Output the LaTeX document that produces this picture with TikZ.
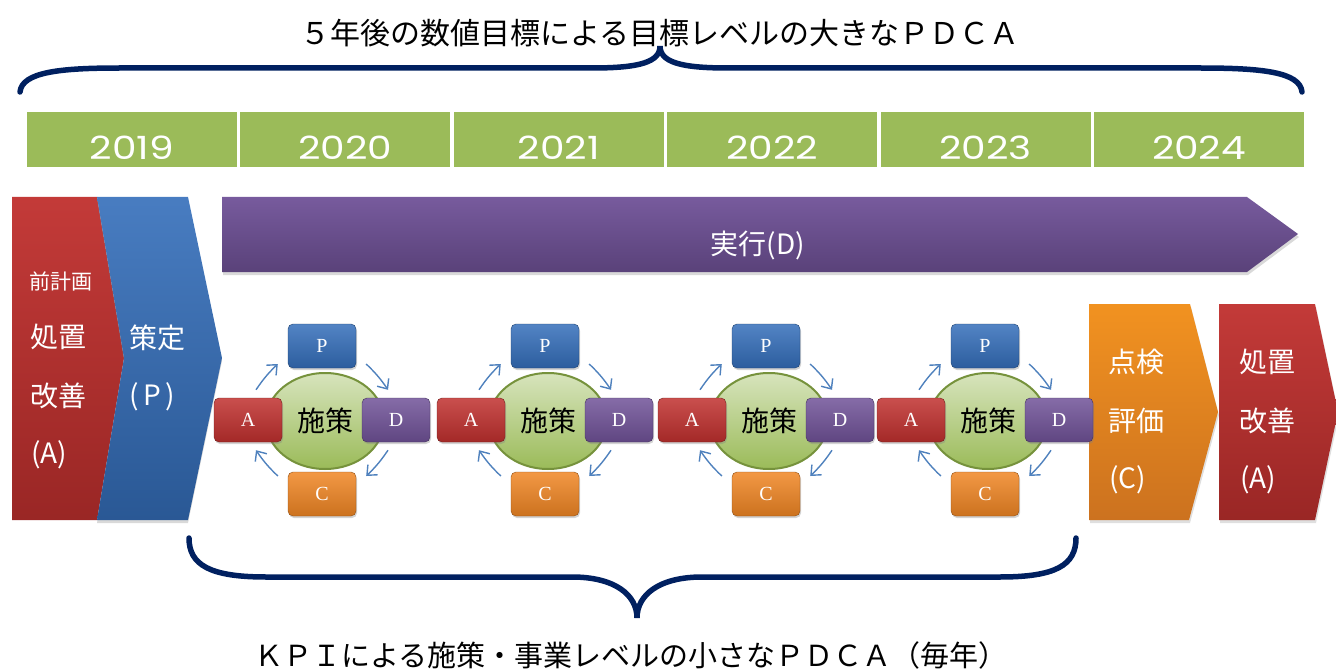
\documentclass[tikz,border=0pt]{standalone}
\usepackage{fontspec}
\setmainfont{Noto Sans CJK JP}
\newfontfamily\yearfont[FakeStretch=1.22]{Poppins}
\newfontfamily\letterfont{Liberation Serif}
\usepackage{tikz}
\usetikzlibrary{shapes.geometric, arrows.meta, positioning, shadows}
\definecolor{yeargreen}{RGB}{155,187,89}
\definecolor{bracenavy}{RGB}{0,32,96}
\definecolor{phasered}{RGB}{192,48,46}
\definecolor{phaseblue}{RGB}{52,110,186}
\definecolor{phasepurple}{RGB}{112,82,152}
\definecolor{phaseorange}{RGB}{240,134,36}
\definecolor{cyclearrow}{RGB}{79,129,189}
\definecolor{ovalgreen}{RGB}{118,146,60}

\begin{document}
\begin{tikzpicture}[
    x=1pt, y=-1pt,
    yearcell/.style={fill=yeargreen, minimum width=210pt, minimum height=55pt, inner sep=0pt},
    yeartext/.style={text=white, inner sep=0pt, font=\yearfont\fontsize{32}{34}\selectfont},
    phasetext/.style={text=white, anchor=west, inner sep=0pt, font=\fontsize{28}{30}\selectfont},
    brace/.style={draw=bracenavy, line width=5.5pt, line cap=round},
    pdca/.style={draw=#1!60!black, thin, rounded corners=5pt, top color=#1!85!white, bottom color=#1!85!black,
        minimum width=68pt, minimum height=44pt, inner sep=0pt, text=white,
        font=\letterfont\fontsize{20}{22}\selectfont,
        drop shadow={opacity=0.35, shadow xshift=1pt, shadow yshift=-2pt}},
    seisaku/.style={ellipse, draw=ovalgreen, line width=2pt, top color=yeargreen!40!white, bottom color=yeargreen,
        minimum width=118pt, minimum height=96pt, inner sep=0pt, font=\fontsize{28}{30}\selectfont},
    cyc/.style={draw=cyclearrow, line width=1.4pt, -{Straight Barb[length=8pt, width=14pt]}}
]
    \useasboundingbox (0,0) rectangle (1336,671);

    % big PDCA over five years
    \node[font=\fontsize{30}{32}\selectfont] (toptitle) at (660,33) {５年後の数値目標による目標レベルの大きなＰＤＣＡ};
    \path[brace] (20,92) .. controls (22,72) and (60,68) .. (120,68) -- (592,68)
        .. controls (640,68) and (660,62) .. (660,46) .. controls (660,62) and (680,68) .. (728,68)
        -- (1200,68) .. controls (1262,68) and (1300,72) .. (1302,92);

    % years
    \foreach \yr [count=\i] in {2019,2020,2021,2022,2023,2024}{
        \node[yearcell] (y\i) at (132+213.4*\i-213.4,140) {};
        \node[yeartext] (yt\i) at (132+213.4*\i-213.4,148) {\yr};
    }

    % phases
    \path[top color=phasered!95!white, bottom color=phasered!80!black] (12,197) -- (97,197) -- (124,358) -- (97,520) -- (12,520) -- cycle;
    \path[top color=phaseblue!90!white, bottom color=phaseblue!80!black, drop shadow={opacity=0.3, shadow xshift=0pt, shadow yshift=-3pt}]
        (97,197) -- (188,197) -- (222,358) -- (188,520) -- (97,520) -- (124,358) -- cycle;
    \path[top color=phasepurple!95!white, bottom color=phasepurple!80!black, drop shadow={opacity=0.3, shadow xshift=1pt, shadow yshift=-3pt}]
        (222,197) -- (1247,197) -- (1298,234) -- (1247,272) -- (222,272) -- cycle;
    \path[top color=phaseorange!90!yellow, bottom color=phaseorange!85!black, drop shadow={opacity=0.25, shadow xshift=1pt, shadow yshift=-3pt}]
        (1089,304) -- (1190,304) -- (1218,412) -- (1189,520) -- (1089,520) -- cycle;
    \path[top color=phasered!95!white, bottom color=phasered!80!black, drop shadow={opacity=0.25, shadow xshift=1pt, shadow yshift=-3pt}]
        (1219,304) -- (1315,304) -- (1338,412) -- (1315,520) -- (1219,520) -- cycle;

    \node[phasetext, font=\fontsize{21}{23}\selectfont] (prev) at (29,281) {前計画};
    \node[phasetext] (actA1) at (30,337) {処置};
    \node[phasetext] (actA2) at (30,396) {改善};
    \node[phasetext] (actA3) at (31,455) {(A)};
    \node[phasetext] (plan1) at (129,338) {策定};
    \node[phasetext] (plan2) at (129,397) {(\,P\,)};
    \node[text=white, font=\fontsize{28}{30}\selectfont] (doD) at (758,245) {実行(D)};
    \node[phasetext] (chk1) at (1108,362) {点検};
    \node[phasetext] (chk2) at (1108,421) {評価};
    \node[phasetext] (chk3) at (1109,480) {(C)};
    \node[phasetext] (actB1) at (1239,362) {処置};
    \node[phasetext] (actB2) at (1239,421) {改善};
    \node[phasetext] (actB3) at (1240,480) {(A)};

    % small yearly PDCA cycles
    \foreach \cx [count=\i] in {322,545,766,985}{
        \node[seisaku] (e\i) at (\cx+3,421) {施策};
        \node[pdca=phaseblue] (p\i) at (\cx,346) {P};
        \node[pdca=phasered] (a\i) at (\cx-74,420) {A};
        \node[pdca=phasepurple] (d\i) at (\cx+74,420) {D};
        \node[pdca=phaseorange] (c\i) at (\cx,494) {C};
        \draw[cyc] ([shift={(8,-8)}]a\i.north) to[bend left=6] ([shift={(-10,18)}]p\i.west);
        \draw[cyc] ([shift={(10,18)}]p\i.east) to[bend left=6] ([shift={(-8,-8)}]d\i.north);
        \draw[cyc] ([shift={(-8,8)}]d\i.south) to[bend left=6] ([shift={(10,-18)}]c\i.east);
        \draw[cyc] ([shift={(-10,-18)}]c\i.west) to[bend left=6] ([shift={(8,8)}]a\i.south);
    }

    % small PDCA every year
    \path[brace] (189,538) .. controls (189,565) and (210,577) .. (266,577) -- (572,577)
        .. controls (615,577) and (637,595) .. (637,618) .. controls (637,595) and (659,577) .. (702,577)
        -- (1000,577) .. controls (1056,577) and (1076,565) .. (1076,538);
    \node[font=\fontsize{29}{31}\selectfont] (bottitle) at (631,655) {ＫＰＩによる施策・事業レベルの小さなＰＤＣＡ（毎年）};
\end{tikzpicture}
\end{document}
